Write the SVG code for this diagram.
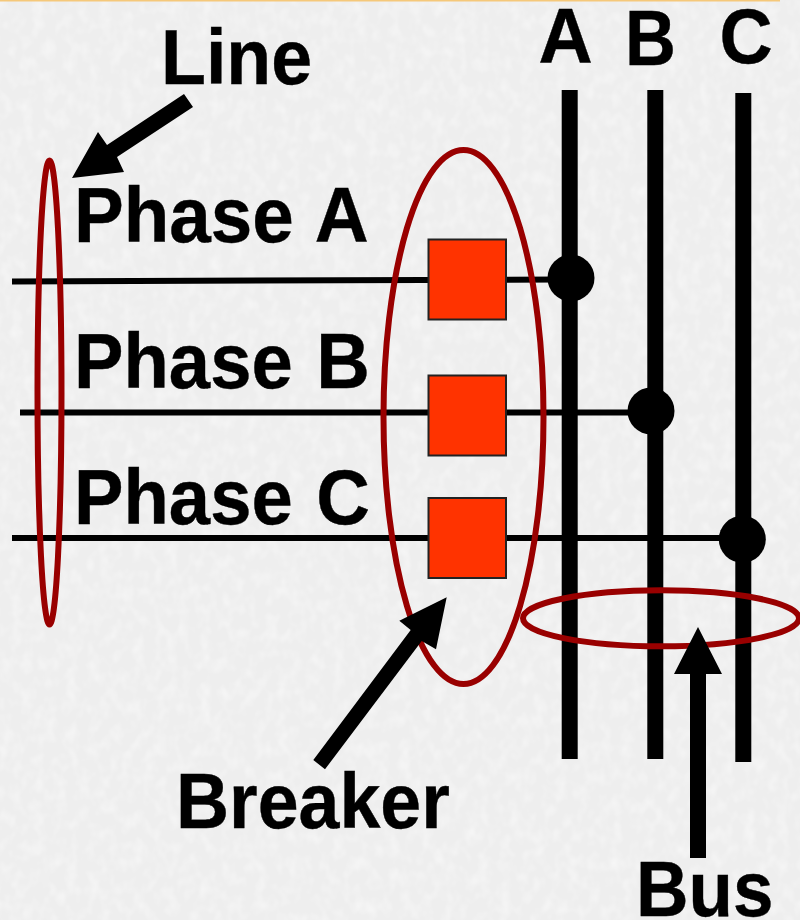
<svg xmlns="http://www.w3.org/2000/svg" width="800" height="920" viewBox="0 0 800 920">
  <defs>
    <filter id="grain" x="0" y="0" width="100%" height="100%">
      <feTurbulence type="fractalNoise" baseFrequency="0.09 0.07" numOctaves="2" seed="4"/>
      <feColorMatrix type="matrix" values="0 0 0 0 1  0 0 0 0 1  0 0 0 0 1  0.9 0 0 0 -0.38"/>
    </filter>
  </defs>
  <style>
    .t { font-family: "Liberation Sans", Arial, sans-serif; font-weight: 700; font-size: 75px; fill: #000; stroke: #000; stroke-width: 0.4; word-spacing: 3px; }
    .bus { stroke: #000; stroke-width: 16; fill: none; }
    .wire { stroke: #000; stroke-width: 6; fill: none; }
    .ring { stroke: #990000; stroke-width: 6; fill: none; }
    .brk { fill: #ff3300; stroke: #222; stroke-width: 2; }
    .arrow { fill: #000; }
  </style>
  <rect width="800" height="920" fill="#eeeeee"/>
  <rect width="800" height="920" filter="url(#grain)"/>
  <rect width="780" height="1.5" fill="#f5c87a"/>

  <g id="connectors">
    <line class="bus" x1="569.7" y1="90" x2="569.7" y2="759"/>
    <line class="bus" x1="655.3" y1="90" x2="655.3" y2="759"/>
    <line class="bus" x1="743.3" y1="93" x2="743.3" y2="762"/>
    <line class="wire" x1="12" y1="281.5" x2="560" y2="279.5"/>
    <line class="wire" x1="20" y1="412.5" x2="640" y2="412.5"/>
    <line class="wire" x1="12" y1="538" x2="730" y2="538"/>
  </g>

  <g id="breaker-a"><rect class="brk" x="428.5" y="239.5" width="77.5" height="80"/></g>
  <g id="breaker-b"><rect class="brk" x="428.5" y="375.5" width="77.5" height="80"/></g>
  <g id="breaker-c"><rect class="brk" x="428.5" y="498" width="77.5" height="80"/></g>

  <g id="junction-a"><circle cx="571" cy="278" r="23.5"/></g>
  <g id="junction-b"><circle cx="651" cy="411" r="23.5"/></g>
  <g id="junction-c"><circle cx="742.3" cy="539.3" r="23.5"/></g>

  <g id="line-ring"><ellipse class="ring" cx="49.5" cy="392.5" rx="12" ry="232"/></g>
  <g id="breaker-ring"><ellipse class="ring" cx="463.5" cy="417" rx="80" ry="267"/></g>
  <g id="bus-ring"><ellipse class="ring" cx="661" cy="618.3" rx="138" ry="28"/></g>

  <g id="arrows">
    <polygon class="arrow" points="184,94 193,107 117,157 124,172 72,178 98,132 107,145"/>
    <polygon class="arrow" points="313.3,760 325,769.3 421.7,641 436,649.3 446.7,597.3 399.3,620.7 410.7,630"/>
    <polygon class="arrow" points="690,858 706,858 706,674 722,674 698,627 674,674 690,674"/>
  </g>

  <g id="label-line" transform="translate(161,84) scale(.98,1.04)"><text class="t">Line</text></g>
  <g id="label-phase-a" transform="translate(74,242) scale(.995,1.04)"><text class="t">Phase A</text></g>
  <g id="label-phase-b" transform="translate(74,388) scale(.99,1.04)"><text class="t">Phase B</text></g>
  <g id="label-phase-c" transform="translate(74,524) scale(.99,1.04)"><text class="t">Phase C</text></g>
  <g id="label-a" transform="translate(538.5,63) scale(1,1.04)"><text class="t">A</text></g>
  <g id="label-b" transform="translate(625,65) scale(.94,1.04)"><text class="t">B</text></g>
  <g id="label-c" transform="translate(719.5,63) scale(.98,1.04)"><text class="t">C</text></g>
  <g id="label-breaker" transform="translate(176,828) scale(.98,1.04)"><text class="t">Breaker</text></g>
  <g id="label-bus" transform="translate(636,916) scale(.97,1.04)"><text class="t">Bus</text></g>
</svg>
